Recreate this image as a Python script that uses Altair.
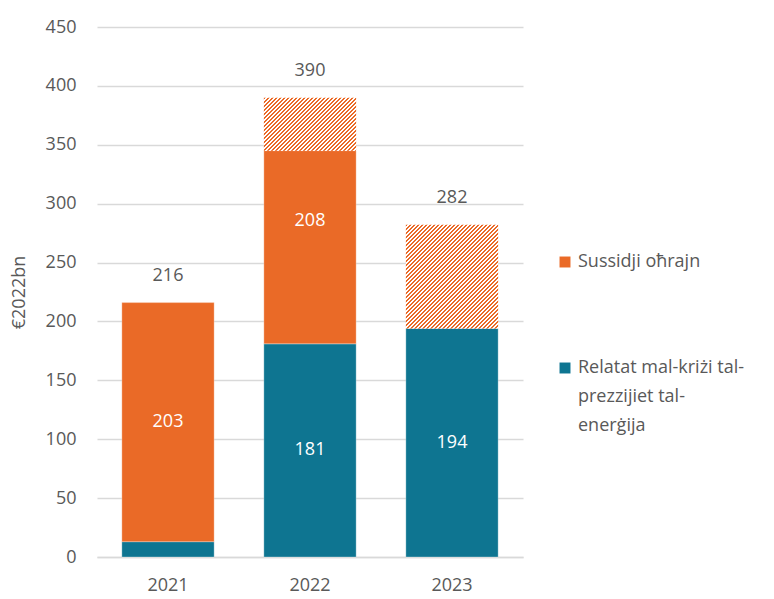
import altair as alt
import pandas as pd

# ---- data ----
years = ["2021", "2022", "2023"]
crisis = [13, 181, 194]            # Relatat mal-kriżi tal-prezzijiet tal-enerġija
other_solid = [203, 164, 0]        # Sussidji oħrajn (solid part)
other_hatched = [0, 45, 88]        # Sussidji oħrajn (hatched part)
totals = [216, 390, 282]
crisis_labels = ["", "181", "194"]
other_labels = ["203", "208", ""]
series = ["Sussidji oħrajn", "Relatat mal-kriżi tal-prezzijiet tal-enerġija"]
legend_lines = ["Relatat mal-kriżi tal-", "prezzijiet tal-", "enerġija"]
y_ticks = [0, 50, 100, 150, 200, 250, 300, 350, 400, 450]
y_title = "€2022bn"

ORANGE = "#EA6A27"
TEAL = "#0E7591"
GREY = "#595959"
GRID = "#D9D9D9"
FONT = "Open Sans"
FS = 18

W, H = 426, 530
YMAX = 450
PAD_IN, PAD_OUT = 0.35, 0.175
step = W / (len(years) - PAD_IN + 2 * PAD_OUT)
bar_w = step * (1 - PAD_IN)
px_per_unit = H / YMAX

# ---- tables ----
seg_rows, hatch_rows, lab_rows, tot_rows = [], [], [], []
for i, yr in enumerate(years):
    c, o, h = crisis[i], other_solid[i], other_hatched[i]
    seg_rows.append(dict(year=yr, series=series[1], y0=0, y1=c))
    if o:
        seg_rows.append(dict(year=yr, series=series[0], y0=c, y1=c + o))
    if h:
        hatch_rows.append(dict(year=yr, y0=c + o, y1=c + o + h))
    if crisis_labels[i]:
        lab_rows.append(dict(year=yr, y=c / 2, text=crisis_labels[i]))
    if other_labels[i]:
        lab_rows.append(dict(year=yr, y=c + (o + h) / 2, text=other_labels[i]))
    tot_rows.append(dict(year=yr, y=totals[i], text=str(totals[i])))

seg = pd.DataFrame(seg_rows)
hatch = pd.DataFrame(hatch_rows)
labs = pd.DataFrame(lab_rows)
tots = pd.DataFrame(tot_rows)

x_enc = alt.X(
    "year:N",
    sort=years,
    scale=alt.Scale(paddingInner=PAD_IN, paddingOuter=PAD_OUT),
    axis=alt.Axis(
        title=None, labelAngle=0, ticks=False, domain=True, domainColor=GRID,
        domainWidth=1.5, labelPadding=19, labelFontSize=FS, labelColor=GREY,
        labelFont=FONT, grid=False,
    ),
)
y_scale = alt.Scale(domain=[0, YMAX], nice=False)

legend_expr = (
    "datum.label == '" + series[0] + "' ? datum.label : ["
    + ", ".join("'" + s + "'" for s in legend_lines) + "]"
)

bars = alt.Chart(seg).mark_bar(stroke="white", strokeWidth=0.6, strokeOpacity=0.5).encode(
    x=x_enc,
    y=alt.Y(
        "y0:Q", scale=y_scale,
        axis=alt.Axis(
            values=y_ticks, title=y_title, grid=True, gridColor=GRID, gridWidth=1.5,
            domain=False, ticks=False, labelPadding=21, labelFontSize=FS,
            labelColor=GREY, labelFont=FONT, titleFont=FONT, titleFontSize=FS,
            titleFontWeight="normal", titleColor=GREY, titleX=-78,
            titleBaseline="middle",
        ),
    ),
    y2="y1:Q",
    color=alt.Color(
        "series:N",
        scale=alt.Scale(domain=series, range=[ORANGE, TEAL]),
        legend=alt.Legend(
            title=None, orient="none", legendX=459, legendY=226,
            symbolType="square", symbolSize=120, symbolStrokeWidth=0,
            labelFontSize=FS, labelColor=GREY, labelFont=FONT, labelLimit=400,
            labelOffset=4, rowPadding=88, padding=0, labelExpr=legend_expr,
        ),
    ),
)


def hatch_fill(value_height, period=4.0, on=2.0):
    w = bar_w
    h = value_height * px_per_unit
    L = w + h
    s = L / (w * w + h * h)
    stops = []
    c = 0.0
    while c < L - 1e-9:
        a = c / L
        m = min(c + on, L) / L
        b = min(c + period, L) / L
        stops += [
            alt.GradientStop(offset=round(a, 5), color=ORANGE),
            alt.GradientStop(offset=round(m, 5), color=ORANGE),
            alt.GradientStop(offset=round(m, 5), color="white"),
            alt.GradientStop(offset=round(b, 5), color="white"),
        ]
        c += period
    return alt.LinearGradient(
        gradient="linear", x1=0, y1=0, x2=s * w, y2=s * h, stops=stops
    )


hatch_layers = []
for _, r in hatch.iterrows():
    hatch_layers.append(
        alt.Chart(hatch)
        .transform_filter(alt.datum.year == r["year"])
        .mark_bar(fill=hatch_fill(r["y1"] - r["y0"]))
        .encode(x=x_enc, y=alt.Y("y0:Q", scale=y_scale), y2="y1:Q")
    )

inner = alt.Chart(labs).mark_text(
    color="white", fontSize=FS, font=FONT, baseline="middle"
).encode(x=x_enc, y=alt.Y("y:Q", scale=y_scale), text="text:N")

top = alt.Chart(tots).mark_text(
    color=GREY, fontSize=FS, font=FONT, baseline="middle", dy=-27
).encode(x=x_enc, y=alt.Y("y:Q", scale=y_scale), text="text:N")

chart = (
    alt.layer(bars, *hatch_layers, inner, top)
    .properties(
        width=W, height=H,
        autosize=alt.AutoSizeParams(type="none"),
        padding={"left": 89, "top": 19, "right": 243, "bottom": 40},
    )
    .configure(
        style={"guide-label": {"lineHeight": 29}},
        view=alt.ViewConfig(stroke=None),
    )
)

chart.save("out.html", embed_options={"renderer": "svg", "actions": False})
